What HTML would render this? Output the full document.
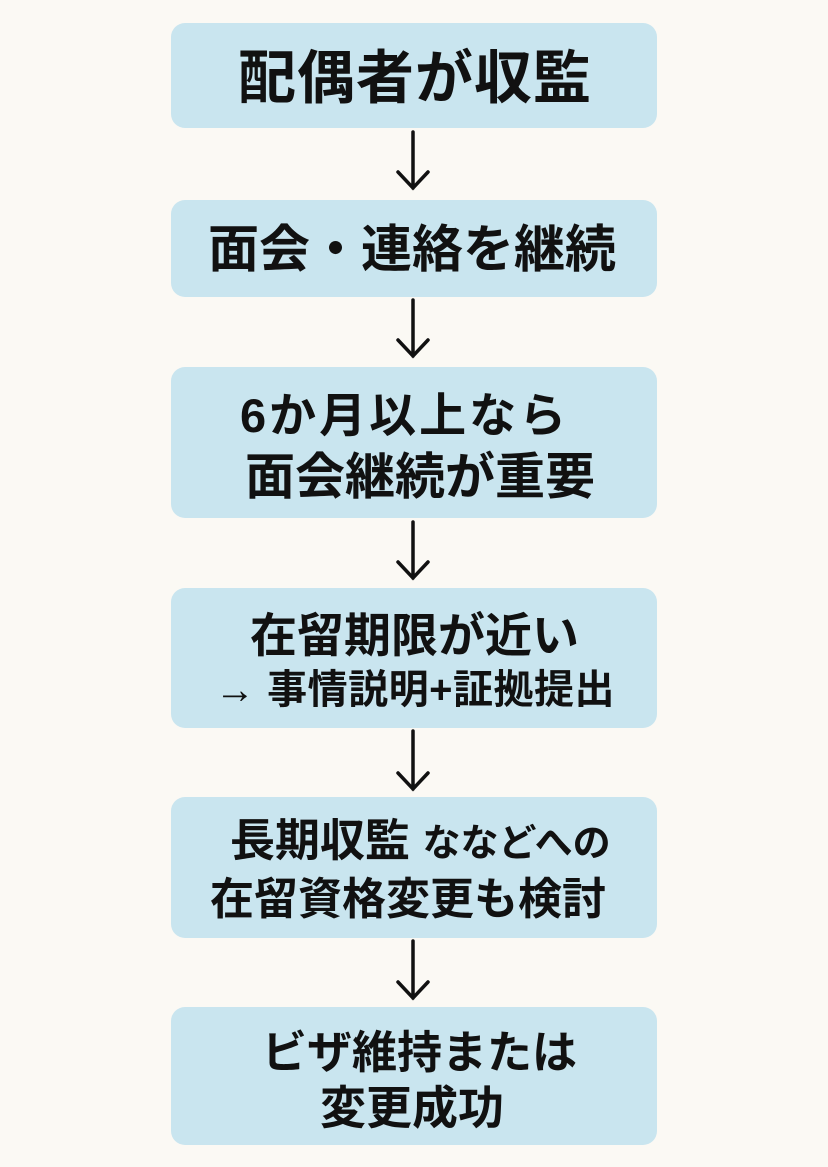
<!DOCTYPE html>
<html><head><meta charset="utf-8"><style>
body{margin:0;background:#fbf9f4;width:828px;height:1167px;position:relative;overflow:hidden;font-family:"Liberation Sans","Noto Sans CJK JP",sans-serif;font-weight:bold;color:#111}
.b{position:absolute;left:171px;width:486px;background:#c9e5ef;border-radius:14px}
.t{position:absolute;white-space:nowrap;line-height:1}
svg{position:absolute;left:0;top:0}
</style></head><body>
<div class="b" style="top:23px;height:105px"></div>
<div class="b" style="top:200px;height:97px"></div>
<div class="b" style="top:367px;height:151px"></div>
<div class="b" style="top:588px;height:140px"></div>
<div class="b" style="top:797px;height:141px"></div>
<div class="b" style="top:1007px;height:138px"></div>
<svg width="828" height="1167" fill="none" stroke="#111" stroke-width="3.5" stroke-linecap="round">
<path d="M413 132V188M398 172L413 188L428 172"/>
<path d="M413 300V356M398 340L413 356L428 340"/>
<path d="M413 522V578M398 562L413 578L428 562"/>
<path d="M413 731V789M398 773L413 789L428 773"/>
<path d="M413 941V998M398 982L413 998L428 982"/>
</svg>
<div class="t" style="left:238px;top:50px;font-size:58px;letter-spacing:1px">配偶者が収監</div>
<div class="t" style="left:208px;top:224px;font-size:51px">面会・連絡を継続</div>
<div class="t" style="left:240px;top:392px;font-size:47px;letter-spacing:3px">6か月以上なら</div>
<div class="t" style="left:245px;top:452px;font-size:50px">面会継続が重要</div>
<div class="t" style="left:250px;top:612px;font-size:47px">在留期限が近い</div>
<div class="t" style="left:215px;top:670px;font-size:40px;letter-spacing:0.5px">→ 事情説明+証拠提出</div>
<div class="t" style="left:230px;top:818px;font-size:45px">長期収監 <span style="font-size:38px">ななどへの</span></div>
<div class="t" style="left:210px;top:878px;font-size:44px">在留資格変更も検討</div>
<div class="t" style="left:262px;top:1030px;font-size:45px">ビザ維持または</div>
<div class="t" style="left:320px;top:1085px;font-size:46px">変更成功</div>
</body></html>
